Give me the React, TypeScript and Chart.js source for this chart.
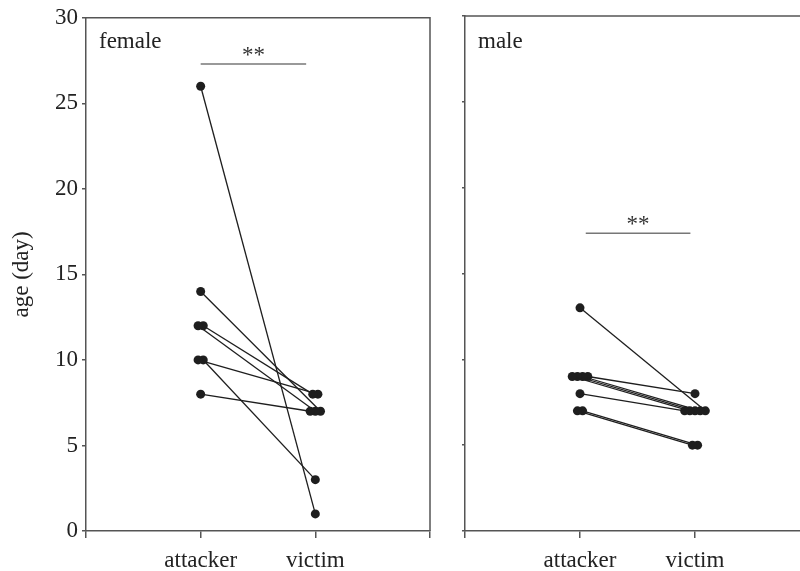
import React, { useEffect, useRef } from 'react';
import { Chart, registerables } from 'chart.js';
Chart.register(...registerables);

// ---- data ----
const groupLabels = ['', 'attacker', 'victim', ''];
const yTickValues = [0, 5, 10, 15, 20, 25, 30];

const femaleAttacker = [26, 8, 12, 12, 14, 10, 10];
const femaleVictim = [1, 7, 7, 8, 7, 8, 3];

const maleAttacker = [8, 9, 9, 9, 13, 9, 7, 7];
const maleVictim = [7, 7, 7, 7, 7, 8, 5, 5];

const femaleSig = { y: 27.3, from: 1.0, to: 1.92, label: '**' };
const maleSig = { y: 17.35, from: 1.05, to: 1.96, label: '**' };

const panelTitles = ['female', 'male'];
const yAxisTitle = 'age (day)';

// ---- styling ----
const FONT = "'Liberation Serif', 'Times New Roman', serif";
const FONT_SIZE = 23;
const AXIS_COLOR = '#555';
const INK = '#1e1e1e';
const JITTER = 0.045;

function jitter(vals: number[]): number[] {
  const counts: Record<number, number> = {};
  vals.forEach((v) => (counts[v] = (counts[v] || 0) + 1));
  const seen: Record<number, number> = {};
  return vals.map((v) => {
    const i = (seen[v] = (seen[v] ?? -1) + 1);
    return (i - (counts[v] - 1) / 2) * JITTER;
  });
}

function buildDatasets(att: number[], vic: number[]) {
  const ja = jitter(att);
  const jv = jitter(vic);
  return att.map((a, i) => ({
    type: 'line' as const,
    data: [
      { x: 1 + ja[i], y: a },
      { x: 2 + jv[i], y: vic[i] },
    ],
    borderColor: INK,
    borderWidth: 1.3,
    pointRadius: 4.5,
    pointBackgroundColor: INK,
    pointBorderWidth: 0,
    pointHoverRadius: 4.5,
    fill: false,
    tension: 0,
  }));
}

function makePlugin(title: string, sig: { y: number; from: number; to: number; label: string }) {
  return {
    id: 'panelDecor',
    afterDatasetsDraw(chart: any) {
      const { ctx, chartArea, scales } = chart;
      ctx.save();
      // frame: top and right
      ctx.strokeStyle = AXIS_COLOR;
      ctx.lineWidth = 1.5;
      ctx.beginPath();
      ctx.moveTo(chartArea.left, chartArea.top);
      ctx.lineTo(chartArea.right, chartArea.top);
      ctx.lineTo(chartArea.right, chartArea.bottom);
      ctx.stroke();
      // panel title
      ctx.fillStyle = '#222';
      ctx.font = `${FONT_SIZE}px ${FONT}`;
      ctx.textAlign = 'left';
      ctx.textBaseline = 'alphabetic';
      ctx.fillText(title, chartArea.left + 13, 48);
      // significance bar
      const x1 = scales.x.getPixelForValue(sig.from);
      const x2 = scales.x.getPixelForValue(sig.to);
      const y = scales.y.getPixelForValue(sig.y);
      ctx.strokeStyle = '#777';
      ctx.lineWidth = 1.5;
      ctx.beginPath();
      ctx.moveTo(x1, y);
      ctx.lineTo(x2, y);
      ctx.stroke();
      ctx.fillStyle = '#333';
      ctx.textAlign = 'center';
      ctx.fillText(sig.label, (x1 + x2) / 2, y - 2);
      ctx.restore();
    },
  };
}

function Panel(props: {
  left: number;
  width: number;
  axisWidth: number;
  padRight: number;
  showLabels: boolean;
  title: string;
  att: number[];
  vic: number[];
  sig: { y: number; from: number; to: number; label: string };
}) {
  const ref = useRef<HTMLCanvasElement>(null);
  useEffect(() => {
    const canvas = ref.current!;
    const chart = new Chart(canvas, {
      type: 'line',
      data: { datasets: buildDatasets(props.att, props.vic) as any },
      options: {
        animation: false,
        responsive: false,
        devicePixelRatio: 1,
        layout: { padding: { top: 16, right: props.padRight, bottom: 0, left: 0 } },
        plugins: { legend: { display: false }, tooltip: { enabled: false } },
        scales: {
          x: {
            type: 'linear',
            min: 0,
            max: 3,
            afterBuildTicks: (s: any) => {
              s.ticks = [0, 1, 2, 3].map((v) => ({ value: v }));
            },
            afterFit: (s: any) => {
              s.height = 40;
            },
            ticks: {
              callback: (v: any) => groupLabels[Math.round(Number(v))] ?? '',
              font: { family: FONT, size: FONT_SIZE },
              color: '#222',
              padding: 9,
              maxRotation: 0,
              autoSkip: false,
            },
            grid: { drawOnChartArea: false, tickLength: 7, color: AXIS_COLOR, lineWidth: 1.5 },
            border: { color: AXIS_COLOR, width: 1.5 },
          },
          y: {
            type: 'linear',
            min: 0,
            max: 30,
            afterBuildTicks: (s: any) => {
              s.ticks = yTickValues.map((v) => ({ value: v }));
            },
            afterFit: (s: any) => {
              s.width = props.axisWidth;
            },
            title: {
              display: props.showLabels,
              text: yAxisTitle,
              font: { family: FONT, size: FONT_SIZE },
              color: '#222',
              padding: { top: 8, bottom: 0 },
            },
            ticks: {
              display: props.showLabels,
              font: { family: FONT, size: FONT_SIZE },
              color: '#222',
              padding: 4,
            },
            grid: {
              drawOnChartArea: false,
              tickLength: props.showLabels ? 4 : 3,
              color: AXIS_COLOR,
              lineWidth: 1.5,
            },
            border: { color: AXIS_COLOR, width: 1.5 },
          },
        },
      } as any,
      plugins: [makePlugin(props.title, props.sig)],
    });
    return () => chart.destroy();
  }, []);
  return (
    <canvas
      ref={ref}
      width={props.width}
      height={571}
      style={{ position: 'absolute', left: props.left, top: 0, width: props.width, height: 571 }}
    />
  );
}

export default function App() {
  return (
    <div
      style={{
        position: 'fixed',
        left: 0,
        top: 0,
        width: 800,
        height: 571,
        overflow: 'hidden',
        background: '#fff',
      }}
    >
      <Panel
        left={0}
        width={440}
        axisWidth={86}
        padRight={10}
        showLabels={true}
        title={panelTitles[0]}
        att={femaleAttacker}
        vic={femaleVictim}
        sig={femaleSig}
      />
      <Panel
        left={440}
        width={400}
        axisWidth={25}
        padRight={30}
        showLabels={false}
        title={panelTitles[1]}
        att={maleAttacker}
        vic={maleVictim}
        sig={maleSig}
      />
    </div>
  );
}
